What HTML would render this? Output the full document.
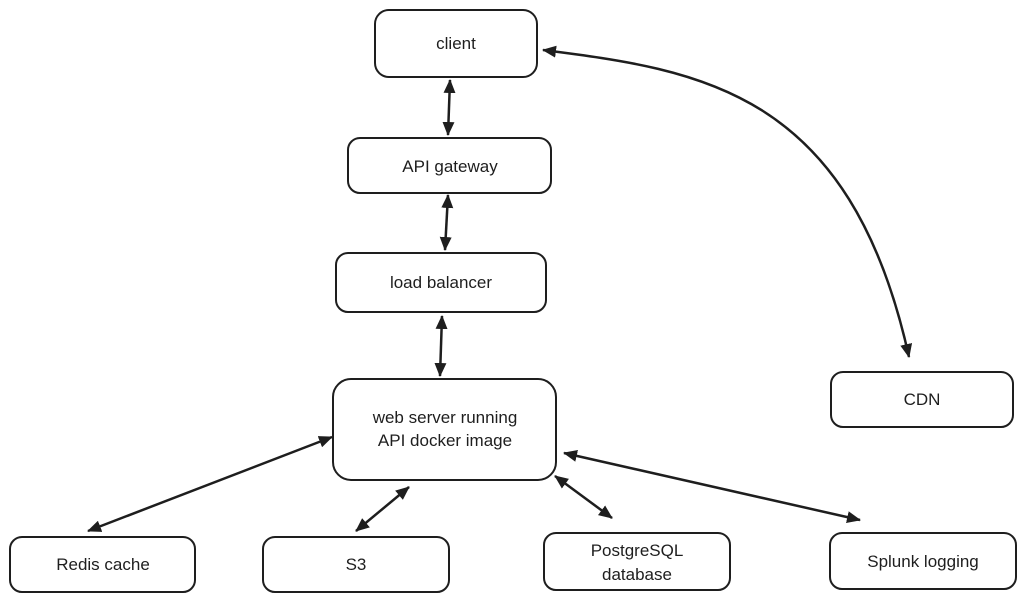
<!DOCTYPE html>
<html><head><meta charset="utf-8"><style>
html,body{margin:0;padding:0;background:#fff;width:1026px;height:602px;overflow:hidden}
svg{display:block}
text{font-family:"Liberation Sans",sans-serif;font-size:17px;fill:#1e1e1e;text-anchor:middle}
</style></head><body>
<svg width="1026" height="602" viewBox="0 0 1026 602">
<defs>
<marker id="a" viewBox="0 0 14 12" refX="13" refY="6" markerWidth="14" markerHeight="12" orient="auto-start-reverse" markerUnits="userSpaceOnUse">
<path d="M0,0 L14,6 L0,12 Z" fill="#1e1e1e"/>
</marker>
</defs>
<g fill="none" stroke="#1e1e1e" stroke-width="2">
<rect x="375" y="10" width="162" height="67" rx="14"/>
<rect x="348" y="138" width="203" height="55" rx="12"/>
<rect x="336" y="253" width="210" height="59" rx="12"/>
<rect x="333" y="379" width="223" height="101" rx="18"/>
<rect x="831" y="372" width="182" height="55" rx="12"/>
<rect x="10" y="537" width="185" height="55" rx="12"/>
<rect x="263" y="537" width="186" height="55" rx="12"/>
<rect x="544" y="533" width="186" height="57" rx="12"/>
<rect x="830" y="533" width="186" height="56" rx="12"/>
</g>
<g fill="none" stroke="#1e1e1e" stroke-width="2.5" marker-start="url(#a)" marker-end="url(#a)">
<path d="M450,80 L448,135"/>
<path d="M448,195 L445,250"/>
<path d="M442,316 L440,376"/>
<path d="M543,50 C700,70 850,90 909,357"/>
<path d="M332,437 L88,531"/>
<path d="M409,487 L356,531"/>
<path d="M555,476 L612,518"/>
<path d="M564,453 L860,520"/>
</g>
<text x="456" y="49">client</text>
<text x="450" y="172">API gateway</text>
<text x="441" y="288">load balancer</text>
<text x="445" y="423">web server running</text>
<text x="445" y="446">API docker image</text>
<text x="922" y="405">CDN</text>
<text x="103" y="570">Redis cache</text>
<text x="356" y="570">S3</text>
<text x="637" y="556">PostgreSQL</text>
<text x="637" y="580">database</text>
<text x="923" y="567">Splunk logging</text>
</svg>
</body></html>
